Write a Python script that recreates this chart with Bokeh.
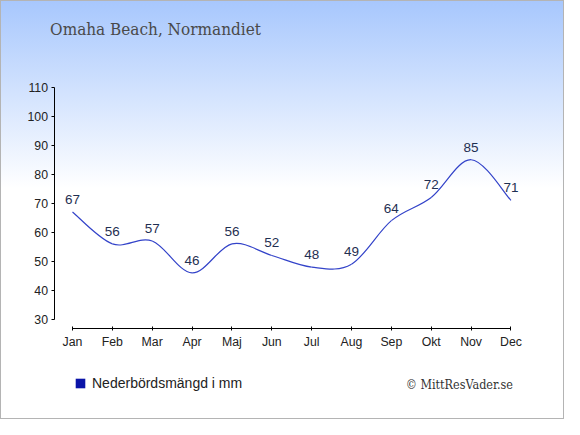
from bokeh.plotting import figure
from bokeh.models import ColumnDataSource, Legend, LegendItem, FixedTicker, Label
from bokeh.core.properties import value
from bokeh.embed import file_html
from bokeh.resources import INLINE

months = ["Jan", "Feb", "Mar", "Apr", "Maj", "Jun", "Jul", "Aug", "Sep", "Okt", "Nov", "Dec"]
rain_mm = [67, 56, 57, 46, 56, 52, 48, 49, 64, 72, 85, 71]
y_ticks = [30, 40, 50, 60, 70, 80, 90, 100, 110]
title_text = "Omaha Beach, Normandiet"
legend_text = "Nederbördsmängd i mm"
credit_text = "© MittResVader.se"

xs = list(range(len(months)))

# Catmull-Rom -> cubic bezier segments for the smooth line
x0, y0, x1, y1, cx0, cy0, cx1, cy1 = [], [], [], [], [], [], [], []
n = len(rain_mm)
for i in range(n - 1):
    pm = (xs[max(i - 1, 0)], rain_mm[max(i - 1, 0)])
    p0 = (xs[i], rain_mm[i])
    p1 = (xs[i + 1], rain_mm[i + 1])
    p2 = (xs[min(i + 2, n - 1)], rain_mm[min(i + 2, n - 1)])
    x0.append(p0[0]); y0.append(p0[1]); x1.append(p1[0]); y1.append(p1[1])
    cx0.append(p0[0] + (p1[0] - pm[0]) / 6); cy0.append(p0[1] + (p1[1] - pm[1]) / 6)
    cx1.append(p1[0] - (p2[0] - p0[0]) / 6); cy1.append(p1[1] - (p2[1] - p0[1]) / 6)

SERIF = "'DejaVu Serif Condensed', 'DejaVu Serif', serif"

p = figure(width=564, height=419, output_backend="svg", toolbar_location=None,
           x_range=(-1.8063, 11.842), y_range=(3.74, 139.88),
           min_border_left=0, min_border_right=20, min_border_bottom=24, min_border_top=0,
           background_fill_color=None, border_fill_color=None, outline_line_color=None,
           styles={"background": "linear-gradient(to bottom, #a7c7fd 0%, #ffffff 45%, #ffffff 100%)",
                   "box-shadow": "inset 0 0 0 1px #b4b4b4"})

p.grid.visible = False

p.xaxis.ticker = FixedTicker(ticks=xs)
p.xaxis.major_label_overrides = {i: m for i, m in enumerate(months)}
p.xaxis.bounds = (0, len(months) - 1)
p.xaxis.fixed_location = 26.66
p.xaxis.major_tick_in = 2
p.xaxis.major_tick_out = 2
p.xaxis.minor_tick_line_color = None
p.xaxis.major_label_standoff = 4

p.yaxis.ticker = FixedTicker(ticks=y_ticks)
p.yaxis.bounds = (y_ticks[0], y_ticks[-1])
p.yaxis.fixed_location = -0.464
p.yaxis.major_tick_in = 0
p.yaxis.major_tick_out = 3
p.yaxis.minor_tick_line_color = None
p.yaxis.major_label_standoff = 3

for ax in (p.xaxis, p.yaxis):
    ax.axis_line_color = "#000000"
    ax.major_tick_line_color = "#000000"
    ax.major_label_text_font = "Liberation Sans"
    ax.major_label_text_font_size = "12.3px"
    ax.major_label_text_color = "#222222"

p.bezier(x0=x0, y0=y0, x1=x1, y1=y1, cx0=cx0, cy0=cy0, cx1=cx1, cy1=cy1,
         line_color="#3343c9", line_width=1.2)

src = ColumnDataSource(dict(x=xs, y=rain_mm, t=[str(v) for v in rain_mm]))
p.text(x="x", y="y", text="t", source=src, text_align="center", text_baseline="middle",
       y_offset=-12.5, text_font=value("Liberation Sans"), text_font_size="13.5px",
       text_color="#1f2f52")

# zero-width proxy bars: invisible in the plot, give the legend its swatch
proxy = p.quad(left=xs, right=xs, top=rain_mm, bottom=rain_mm,
               fill_color="#0a14a8", line_color=None)
legend = Legend(items=[LegendItem(label=legend_text, renderers=[proxy])],
                location=(74, 4), orientation="horizontal",
                background_fill_alpha=0, border_line_color=None,
                padding=0, margin=0, glyph_width=12, glyph_height=12, label_standoff=6,
                label_text_font="Liberation Sans", label_text_font_size="14px",
                label_text_color="#222222", label_height=12)
p.add_layout(legend, "center")

title = Label(x=49.6, y=366.1, x_units="screen", y_units="screen", text=title_text,
              text_align="left", text_baseline="middle",
              text_font=SERIF, text_font_size="17px", text_color="#4a4a4a")
p.add_layout(title)

credit = Label(x=512.5, y=11, x_units="screen", y_units="screen", text=credit_text,
               text_align="right", text_baseline="middle",
               text_font=SERIF, text_font_size="12.5px", text_color="#333333")
p.add_layout(credit)

open("out.html", "w").write(file_html(p, INLINE))
